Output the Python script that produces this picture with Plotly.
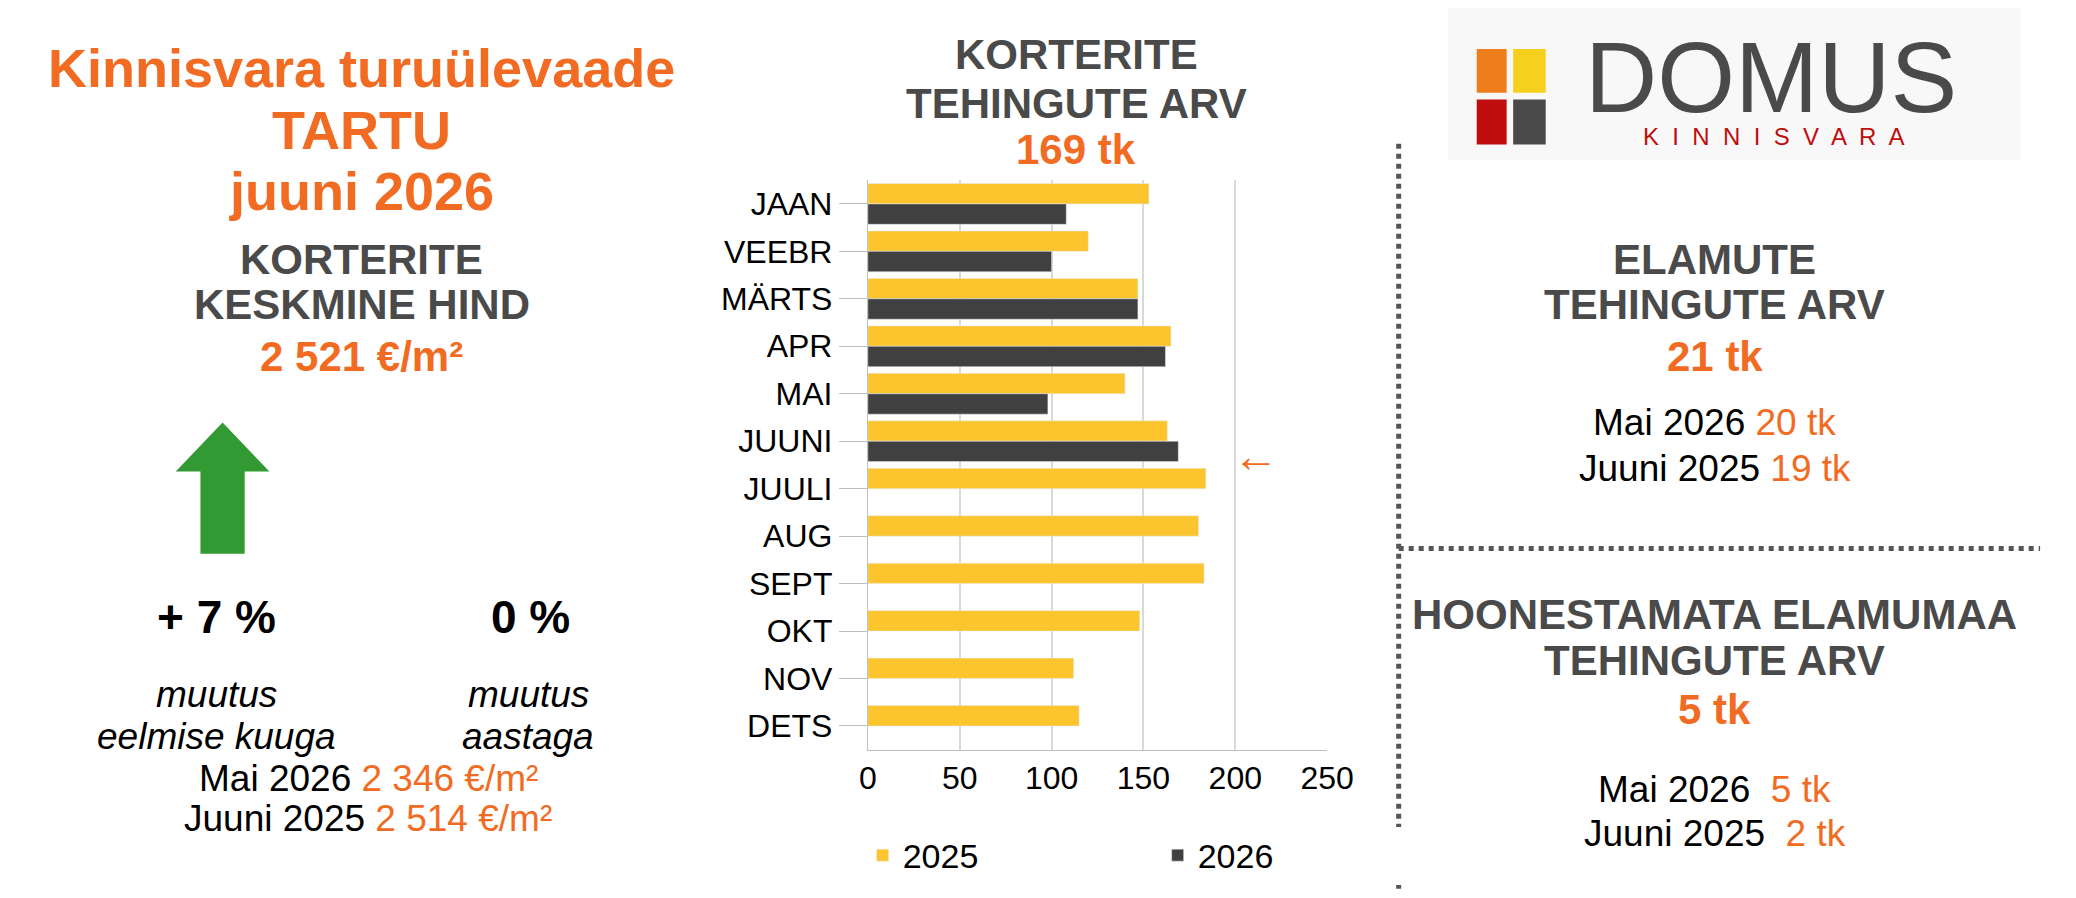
import plotly.graph_objects as go

months = ["JAAN","VEEBR","MÄRTS","APR","MAI","JUUNI","JUULI","AUG","SEPT","OKT","NOV","DETS"]
v2025 = [153,120,147,165,140,163,184,180,183,148,112,115]
v2026 = [108,100,147,162,98,169,None,None,None,None,None,None]
xticks = [0,50,100,150,200,250]

W, H = 2076, 898
OR = "#f26b22"; DG = "#404040"

fig = go.Figure()
fig.add_trace(go.Bar(y=months, x=v2025, orientation="h", name="2025", marker_color="#fcc42d"))
fig.add_trace(go.Bar(y=months, x=v2026, orientation="h", name="2026", marker_color="#404040"))

def px(x): return x/1568
def py(y): return 1 - y/678

fig.update_layout(
    width=W, height=H, margin=dict(l=0, r=0, t=0, b=0),
    paper_bgcolor="white", plot_bgcolor="white",
    font=dict(family="Liberation Sans, Arial", color="black", size=32),
    barmode="group", bargap=0.14, bargroupgap=0,
    xaxis=dict(domain=[px(654), px(1007)], range=[0,250], tickvals=xticks,
               showgrid=True, gridcolor="#d9d9d9", gridwidth=1.5, zeroline=False,
               showline=True, linecolor="#bfbfbf", ticks="", tickfont=dict(size=32)),
    yaxis=dict(domain=[py(560), py(130)], autorange="reversed", showline=True,
               linecolor="#bfbfbf", ticks="outside", ticklen=28, tickcolor="#bfbfbf",
               tickfont=dict(size=32)),
    legend=dict(orientation="h", x=px(650), y=py(618), xanchor="left", yanchor="top",
                entrywidth=250, font=dict(size=34), itemwidth=30),
)

def txt(x, y, t, size=34, color="black", bold=False, italic=False, family=None):
    if bold: t = f"<b>{t}</b>"
    if italic: t = f"<i>{t}</i>"
    f = dict(size=size, color=color)
    if family: f["family"] = family
    fig.add_annotation(x=px(x), y=py(y), xref="paper", yref="paper", text=t,
                       showarrow=False, font=f, xanchor="center", yanchor="middle")

o = lambda s: f"<span style='color:{OR}'>{s}</span>"
HD = "#4a4a4a"

txt(265, 45, "Kinnisvara turuülevaade", 54, OR, True)
txt(265, 92, "TARTU", 54, OR, True)
txt(265, 138, "juuni 2026", 54, OR, True)
txt(265, 190, "KORTERITE", 42, HD, True)
txt(265, 224, "KESKMINE HIND", 42, HD, True)
txt(265, 263, "2 521 €/m²", 42, OR, True)
txt(153, 460, "+ 7 %", 46, "black", True)
txt(395, 460, "0 %", 46, "black", True)
txt(153, 518, "muutus", 37, italic=True)
txt(153, 550, "eelmise kuuga", 37, italic=True)
txt(393, 518, "muutus", 37, italic=True)
txt(393, 550, "aastaga", 37, italic=True)
txt(270, 582, "Mai 2026 " + o("2 346 €/m²"), 37)
txt(270, 612, "Juuni 2025 " + o("2 514 €/m²"), 37)

txt(814, 35, "KORTERITE", 42, HD, True)
txt(814, 72, "TEHINGUTE ARV", 42, HD, True)
txt(814, 107, "169 tk", 42, OR, True)
txt(952, 338, "←", 46, OR)

txt(1305, 190, "ELAMUTE", 42, HD, True)
txt(1305, 224, "TEHINGUTE ARV", 42, HD, True)
txt(1305, 263, "21 tk", 42, OR, True)
txt(1305, 313, "Mai 2026 " + o("20 tk"), 37)
txt(1305, 348, "Juuni 2025 " + o("19 tk"), 37)
txt(1305, 458, "HOONESTAMATA ELAMUMAA", 42, HD, True)
txt(1305, 493, "TEHINGUTE ARV", 42, HD, True)
txt(1305, 530, "5 tk", 42, OR, True)
txt(1305, 590, "Mai 2026  " + o("5 tk"), 37)
txt(1305, 623, "Juuni 2025  " + o("2 tk"), 37)

# logo
def rect(x0, y0, x1, y1, color, lw=0):
    fig.add_shape(type="rect", xref="paper", yref="paper", x0=px(x0), x1=px(x1),
                  y0=py(y1), y1=py(y0), fillcolor=color, line=dict(width=lw), layer="below")
rect(1100, 0, 1540, 115, "#f8f8f8")
rect(1122, 31, 1145, 64, "#ee7d1c")
rect(1150, 31, 1175, 64, "#f7cf1d")
rect(1122, 69, 1145, 103, "#c00d0d")
rect(1150, 69, 1175, 103, "#4a4a4a")
txt(1348, 52, "DOMUS", 100, HD, family="Liberation Sans, Arial")
txt(1350, 97, "K  I  N  N  I  S  V  A  R  A", 24, "#c00d0d", family="Liberation Sans, Arial")

# green arrow
pts = [(158,313),(194,350),(175,350),(175,412),(141,412),(141,350),(122,350)]
path = "M " + " L ".join(f"{px(x)},{py(y)}" for x, y in pts) + " Z"
fig.add_shape(type="path", xref="paper", yref="paper", path=path,
              fillcolor="#339933", line=dict(width=0))

# dotted separators
fig.add_shape(type="line", xref="paper", yref="paper", x0=px(1062), x1=px(1062),
              y0=py(665), y1=py(100), line=dict(color="#555", width=5, dash="dot"))
fig.add_shape(type="line", xref="paper", yref="paper", x0=px(1062), x1=px(1555),
              y0=py(408), y1=py(408), line=dict(color="#555", width=5, dash="dot"))

fig.write_html("out.html")
